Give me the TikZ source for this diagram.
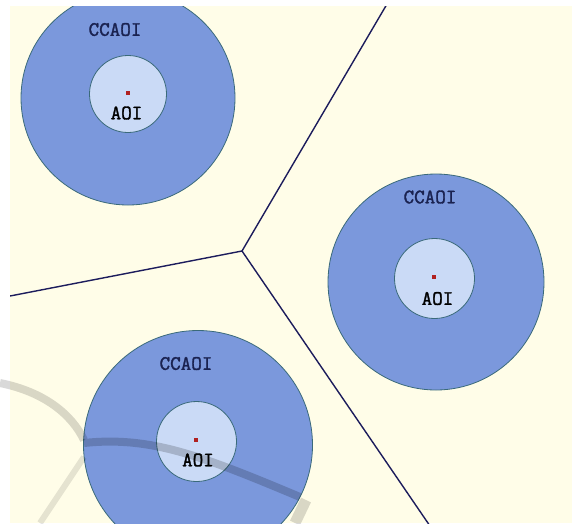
\documentclass[tikz,border=0pt]{standalone}
\usepackage{fontspec}
\newfontfamily\labfont[FakeBold=1.6]{Latin Modern Mono}
\definecolor{cream}{HTML}{FFFDE8}
\definecolor{outerblue}{HTML}{7B98DC}
\definecolor{innerblue}{HTML}{CADAF6}
\definecolor{rimcol}{HTML}{3A6A7A}
\definecolor{navy}{HTML}{1C1C5C}
\definecolor{dotred}{HTML}{B02020}
\definecolor{labnavy}{HTML}{1A2250}
\tikzset{
  outerc/.style={circle, fill=outerblue, draw=rimcol, line width=0.8pt, inner sep=0pt},
  innerc/.style={circle, fill=innerblue, draw=rimcol, line width=0.8pt, inner sep=0pt},
  dotbox/.style={fill=dotred, minimum size=4pt, inner sep=0pt},
  biglab/.style={font=\labfont\fontsize{20.5}{20.5}\selectfont, text=labnavy, inner sep=0pt},
  smalllab/.style={font=\labfont\fontsize{20.5}{20.5}\selectfont, text=black, inner sep=0pt},
  border/.style={navy, line width=1.4pt},
  wmark/.style={black, opacity=0.18, line width=8pt}
}
\begin{document}
\begin{tikzpicture}[x=1pt,y=-1pt]
\useasboundingbox (0,0) rectangle (572,523);
\fill[white] (0,0) rectangle (572,523);
\fill[cream] (10,6) rectangle (572,523);
\begin{scope}
\clip (10,6) rectangle (572,523);
% borders
\coordinate (J) at (242,251);
\coordinate (Etop) at (387,4);
\coordinate (Eleft) at (10,296);
\coordinate (Ebot) at (430,526);
\draw[border] (J) -- (Etop);
\draw[border] (J) -- (Eleft);
\draw[border] (J) -- (Ebot);
% circle 1
\node[outerc, minimum size=214pt] (o1) at (128,98) {};
\node[innerc, minimum size=77pt] (i1) at (128,94) {};
\node[dotbox] (d1) at (128,93) {};
\node[biglab] (c1) at (115,29.5) {CCAOI};
\node[smalllab] (a1) at (126.5,113) {AOI};
% circle 2
\node[outerc, minimum size=216pt] (o2) at (436,282) {};
\node[innerc, minimum size=80pt] (i2) at (434.5,278.5) {};
\node[dotbox] (d2) at (434,277) {};
\node[biglab] (c2) at (430,197) {CCAOI};
\node[smalllab] (a2) at (437.5,298.5) {AOI};
% circle 3
\node[outerc, minimum size=229pt] (o3) at (198,445) {};
\node[innerc, minimum size=80pt] (i3) at (196.5,441.5) {};
\node[dotbox] (d3) at (196,440) {};
\node[biglab] (c3) at (186,363.5) {CCAOI};
\node[smalllab] (a3) at (198,460) {AOI};
\end{scope}
% faint watermark swoosh
\draw[wmark, opacity=0.15] (0,383) .. controls (45,392) and (72,415) .. (84,440);
\draw[wmark] (84,443) .. controls (150,436) and (200,455) .. (300,497);
\draw[wmark, opacity=0.1, line width=6pt] (84,457) -- (40,523);
\draw[wmark, opacity=0.15, line width=11pt] (306,500) -- (295,523);
\end{tikzpicture}
\end{document}
